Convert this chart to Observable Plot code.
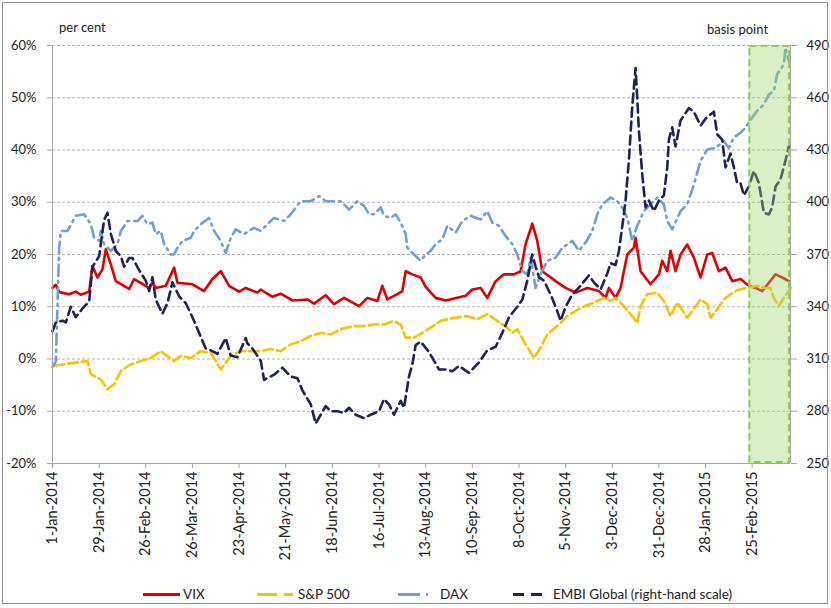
<!DOCTYPE html>
<html>
<head>
<meta charset="utf-8">
<script src="https://cdn.jsdelivr.net/npm/d3@7"></script>
<script src="https://cdn.jsdelivr.net/npm/@observablehq/plot@0.6"></script>
<style>
  html, body { margin: 0; padding: 0; background: #fff; }
  #wrap { position: relative; width: 831px; height: 608px; font-family: Lato, "Open Sans", sans-serif; color: #222; overflow: hidden; }
  #frame { position: absolute; left: 2px; top: 2px; width: 826px; height: 602px; box-sizing: border-box; border: 1px solid #8f8f8f; pointer-events: none; }
  #chart { position: absolute; left: 0; top: 0; }
  .lbl { position: absolute; font-size: 13px; white-space: nowrap; }
  .leg { position: absolute; top: 585px; font-size: 13.5px; white-space: nowrap; line-height: 18px; }
  .leg svg { position: absolute; top: 0; }
</style>
</head>
<body>
<div id="wrap">
  <div id="chart"></div>
  <div class="lbl" style="left:59px; top:19px;">per cent</div>
  <div class="lbl" style="left:707px; top:21px;">basis point</div>
  <div id="legend"></div>
  <div id="frame"></div>
</div>
<script>
// ---- data ----
const seriesNames = ["VIX", "S&P 500", "DAX", "EMBI Global (right-hand scale)"];

const vix = [
["2014-01-01",13.6],["2014-01-03",14.2],["2014-01-05",12.8],["2014-01-11",12.4],["2014-01-15",12.9],["2014-01-18",12.3],["2014-01-23",12.9],["2014-01-25",17.8],["2014-01-28",15.6],["2014-01-31",17.2],["2014-02-02",21.0],["2014-02-05",18.1],["2014-02-08",14.9],["2014-02-16",13.4],["2014-02-19",15.3],["2014-02-28",13.6],["2014-03-02",14.6],["2014-03-04",13.6],["2014-03-10",14.0],["2014-03-15",17.5],["2014-03-17",14.6],["2014-03-26",14.3],["2014-04-02",13.0],["2014-04-07",15.3],["2014-04-12",16.8],["2014-04-17",14.0],["2014-04-23",12.9],["2014-04-27",13.6],["2014-05-04",12.7],["2014-05-06",13.3],["2014-05-13",11.9],["2014-05-18",12.5],["2014-05-25",11.2],["2014-06-03",11.4],["2014-06-07",10.6],["2014-06-14",12.2],["2014-06-19",10.5],["2014-06-25",11.7],["2014-07-04",10.1],["2014-07-09",11.7],["2014-07-15",11.1],["2014-07-18",14.0],["2014-07-21",11.4],["2014-07-27",12.4],["2014-07-30",13.0],["2014-08-01",16.8],["2014-08-05",16.2],["2014-08-10",15.6],["2014-08-13",13.8],["2014-08-19",11.7],["2014-08-25",11.2],["2014-09-06",12.1],["2014-09-10",13.3],["2014-09-15",13.6],["2014-09-19",11.7],["2014-09-24",14.9],["2014-09-29",16.2],["2014-10-05",16.2],["2014-10-09",16.8],["2014-10-12",22.0],["2014-10-16",25.9],["2014-10-19",22.6],["2014-10-22",16.8],["2014-10-30",14.9],["2014-11-05",13.6],["2014-11-11",12.7],["2014-11-18",13.6],["2014-11-25",13.0],["2014-11-29",11.7],["2014-12-01",13.6],["2014-12-05",11.7],["2014-12-08",13.6],["2014-12-12",20.0],["2014-12-16",21.3],["2014-12-17",23.2],["2014-12-20",16.8],["2014-12-26",14.3],["2014-12-31",16.2],["2015-01-02",18.8],["2015-01-05",16.8],["2015-01-07",20.7],["2015-01-10",16.8],["2015-01-13",20.0],["2015-01-17",21.9],["2015-01-21",19.4],["2015-01-25",15.6],["2015-01-29",20.0],["2015-02-01",20.3],["2015-02-05",16.8],["2015-02-09",17.5],["2015-02-13",14.9],["2015-02-18",15.3],["2015-02-23",14.0],["2015-02-27",13.6],["2015-03-03",13.0],["2015-03-11",16.2],["2015-03-15",15.6],["2015-03-19",14.9]
];

const sp500 = [
["2014-01-02",-1.3],["2014-01-12",-0.8],["2014-01-22",-0.4],["2014-01-24",-2.9],["2014-01-30",-3.9],["2014-02-03",-5.8],["2014-02-07",-4.8],["2014-02-11",-2.3],["2014-02-17",-1.0],["2014-02-23",-0.4],["2014-03-01",0.2],["2014-03-07",1.5],["2014-03-15",-0.4],["2014-03-19",0.6],["2014-03-25",0.2],["2014-03-31",1.5],["2014-04-06",1.2],["2014-04-12",-2.0],["2014-04-18",0.6],["2014-04-24",1.5],["2014-04-30",1.5],["2014-05-06",1.5],["2014-05-12",1.9],["2014-05-18",1.5],["2014-05-24",2.8],["2014-05-30",3.4],["2014-06-05",4.4],["2014-06-11",5.0],["2014-06-17",4.7],["2014-06-23",5.7],["2014-07-01",6.3],["2014-07-07",6.3],["2014-07-13",6.6],["2014-07-19",6.6],["2014-07-25",7.3],["2014-07-29",6.6],["2014-08-01",4.1],["2014-08-06",4.1],["2014-08-10",4.8],["2014-08-16",6.0],["2014-08-22",7.3],["2014-08-30",7.9],["2014-09-07",8.2],["2014-09-13",7.6],["2014-09-19",8.6],["2014-09-25",7.3],["2014-10-01",6.0],["2014-10-04",5.0],["2014-10-07",5.7],["2014-10-12",2.8],["2014-10-17",0.2],["2014-10-21",2.2],["2014-10-25",4.7],["2014-10-31",6.3],["2014-11-06",8.2],["2014-11-14",9.8],["2014-11-22",10.8],["2014-11-28",11.7],["2014-12-02",11.1],["2014-12-05",11.7],["2014-12-10",10.1],["2014-12-15",8.2],["2014-12-18",6.9],["2014-12-20",10.1],["2014-12-24",12.4],["2014-12-30",12.7],["2015-01-03",11.1],["2015-01-07",8.2],["2015-01-11",10.8],["2015-01-17",7.9],["2015-01-20",9.2],["2015-01-25",11.4],["2015-01-29",10.5],["2015-01-31",7.9],["2015-02-04",9.5],["2015-02-08",11.4],["2015-02-12",12.4],["2015-02-17",13.3],["2015-02-22",13.6],["2015-02-28",14.0],["2015-03-04",13.6],["2015-03-08",13.6],["2015-03-10",11.7],["2015-03-13",10.1],["2015-03-16",11.7],["2015-03-20",13.6]
];

const dax = [
["2014-01-01",-1.5],["2014-01-03",-0.5],["2014-01-05",21.3],["2014-01-06",24.5],["2014-01-10",24.5],["2014-01-15",27.4],["2014-01-20",27.7],["2014-01-24",25.8],["2014-01-26",23.2],["2014-01-29",22.6],["2014-01-30",24.5],["2014-02-01",22.0],["2014-02-05",20.7],["2014-02-09",22.0],["2014-02-11",24.5],["2014-02-15",26.4],["2014-02-21",26.4],["2014-02-24",27.4],["2014-02-27",25.8],["2014-03-02",26.1],["2014-03-04",23.9],["2014-03-07",24.5],["2014-03-09",22.0],["2014-03-13",20.0],["2014-03-15",20.0],["2014-03-17",21.3],["2014-03-20",22.6],["2014-03-25",23.2],["2014-03-27",24.5],["2014-03-31",25.8],["2014-04-05",27.0],["2014-04-08",24.5],["2014-04-12",22.6],["2014-04-15",20.3],["2014-04-18",23.2],["2014-04-21",24.8],["2014-04-26",23.9],["2014-05-02",25.1],["2014-05-06",24.5],["2014-05-10",25.8],["2014-05-14",27.0],["2014-05-20",26.4],["2014-05-24",27.7],["2014-05-30",30.2],["2014-06-05",30.2],["2014-06-10",31.2],["2014-06-14",30.2],["2014-06-19",30.2],["2014-06-23",30.2],["2014-06-28",28.6],["2014-07-03",30.2],["2014-07-07",29.3],["2014-07-10",27.7],["2014-07-13",27.7],["2014-07-17",29.0],["2014-07-19",27.4],["2014-07-23",27.0],["2014-07-26",27.7],["2014-07-29",26.1],["2014-08-01",23.9],["2014-08-02",21.3],["2014-08-06",20.0],["2014-08-10",18.8],["2014-08-13",20.0],["2014-08-16",20.7],["2014-08-19",22.0],["2014-08-23",22.9],["2014-08-26",25.5],["2014-08-31",24.2],["2014-09-04",26.4],["2014-09-09",27.4],["2014-09-15",26.7],["2014-09-19",28.3],["2014-09-22",26.1],["2014-09-26",25.5],["2014-09-30",23.5],["2014-10-04",22.0],["2014-10-07",20.0],["2014-10-10",16.8],["2014-10-13",16.2],["2014-10-15",19.4],["2014-10-18",13.6],["2014-10-21",16.2],["2014-10-25",18.8],["2014-10-30",19.4],["2014-11-03",21.3],["2014-11-09",22.6],["2014-11-13",20.7],["2014-11-17",22.3],["2014-11-21",24.5],["2014-11-24",27.7],["2014-11-27",29.6],["2014-12-02",30.9],["2014-12-06",30.2],["2014-12-09",29.0],["2014-12-12",27.0],["2014-12-15",22.6],["2014-12-18",25.5],["2014-12-22",28.3],["2014-12-26",29.6],["2014-12-30",30.9],["2015-01-03",29.6],["2015-01-05",26.4],["2015-01-08",24.8],["2015-01-13",28.3],["2015-01-17",29.6],["2015-01-21",33.4],["2015-01-25",37.9],["2015-01-29",40.1],["2015-02-03",40.4],["2015-02-08",41.7],["2015-02-11",40.4],["2015-02-14",42.4],["2015-02-18",43.3],["2015-02-21",44.3],["2015-02-25",46.2],["2015-02-28",47.5],["2015-03-04",48.7],["2015-03-07",50.6],["2015-03-10",51.3],["2015-03-12",54.5],["2015-03-16",56.4],["2015-03-17",59.6],["2015-03-19",57.0]
];

// EMBI Global spread, basis points (right-hand scale)
const embi = [
["2014-01-01",326],["2014-01-03",331],["2014-01-07",332],["2014-01-09",331],["2014-01-12",340],["2014-01-15",334],["2014-01-19",339],["2014-01-23",343],["2014-01-25",363],["2014-01-29",369],["2014-02-01",390],["2014-02-03",394],["2014-02-05",382],["2014-02-08",372],["2014-02-11",369],["2014-02-13",363],["2014-02-16",368],["2014-02-18",368],["2014-02-22",361],["2014-02-26",355],["2014-02-28",349],["2014-03-02",357],["2014-03-04",344],["2014-03-08",336],["2014-03-11",342],["2014-03-14",354],["2014-03-18",346],["2014-03-22",342],["2014-03-26",334],["2014-03-30",325],["2014-04-03",316],["2014-04-06",315],["2014-04-10",313],["2014-04-15",322],["2014-04-18",312],["2014-04-22",311],["2014-04-27",322],["2014-04-28",319],["2014-05-01",316],["2014-05-06",309],["2014-05-08",298],["2014-05-14",301],["2014-05-19",305],["2014-05-24",300],["2014-05-28",299],["2014-05-31",292],["2014-06-05",284],["2014-06-08",273],["2014-06-11",278],["2014-06-14",283],["2014-06-17",280],["2014-06-21",280],["2014-06-25",279],["2014-06-28",282],["2014-07-02",278],["2014-07-07",276],["2014-07-11",278],["2014-07-16",280],["2014-07-19",287],["2014-07-22",284],["2014-07-25",278],["2014-07-29",286],["2014-07-31",282],["2014-08-03",300],["2014-08-05",307],["2014-08-07",318],["2014-08-10",320],["2014-08-15",314],["2014-08-21",304],["2014-08-25",304],["2014-08-29",303],["2014-09-02",306],["2014-09-08",302],["2014-09-14",308],["2014-09-19",315],["2014-09-24",317],["2014-09-28",325],["2014-10-02",334],["2014-10-07",340],["2014-10-10",344],["2014-10-13",355],["2014-10-16",370],["2014-10-18",363],["2014-10-20",357],["2014-10-23",355],["2014-10-27",347],["2014-10-30",340],["2014-11-02",332],["2014-11-05",340],["2014-11-09",347],["2014-11-13",351],["2014-11-19",358],["2014-11-22",354],["2014-11-26",350],["2014-11-30",359],["2014-12-02",365],["2014-12-05",364],["2014-12-07",372],["2014-12-09",386],["2014-12-11",401],["2014-12-13",424],["2014-12-15",455],["2014-12-17",477],["2014-12-18",460],["2014-12-19",441],["2014-12-21",416],["2014-12-23",397],["2014-12-25",401],["2014-12-28",395],["2014-12-31",401],["2015-01-03",404],["2015-01-05",420],["2015-01-06",436],["2015-01-08",443],["2015-01-10",432],["2015-01-13",447],["2015-01-18",454],["2015-01-21",452],["2015-01-25",444],["2015-01-28",448],["2015-02-02",452],["2015-02-04",439],["2015-02-07",436],["2015-02-09",420],["2015-02-12",428],["2015-02-14",420],["2015-02-16",411],["2015-02-18",411],["2015-02-20",404],["2015-02-23",409],["2015-02-26",418],["2015-03-01",411],["2015-03-04",394],["2015-03-07",393],["2015-03-09",397],["2015-03-11",409],["2015-03-14",413],["2015-03-17",424],["2015-03-19",432]
];

const xDomain = ["2014-01-01", "2015-03-20"];
const xTickDates = ["2014-01-01","2014-01-29","2014-02-26","2014-03-26","2014-04-23","2014-05-21","2014-06-18","2014-07-16","2014-08-13","2014-09-10","2014-10-08","2014-11-05","2014-12-03","2014-12-31","2015-01-28","2015-02-25"];
const leftTicks = [-20, -10, 0, 10, 20, 30, 40, 50, 60];
const rightTicks = [250, 280, 310, 340, 370, 400, 430, 460, 490];
const shadedPeriod = [{start: "2015-02-23", end: "2015-03-20"}];

// ---- helpers ----
const parse = s => new Date(s + "T00:00:00Z");
// right-hand scale (bp) mapped onto the left scale (%): 250..490 <-> -20..60
const bpToPct = bp => (bp - rightTicks[0]) / (rightTicks[rightTicks.length - 1] - rightTicks[0]) * (leftTicks[leftTicks.length - 1] - leftTicks[0]) + leftTicks[0];
const pctToBp = p => Math.round((p - leftTicks[0]) / (leftTicks[leftTicks.length - 1] - leftTicks[0]) * (rightTicks[rightTicks.length - 1] - rightTicks[0]) + rightTicks[0]);
const fmt = d3.utcFormat("%-d-%b-%Y");

const colors = {vix: "#e00000", sp: "#ffc000", dax: "#6f9fd8", embi: "#1f2157"};

const chart = Plot.plot({
  width: 831,
  height: 570,
  marginLeft: 52,
  marginRight: 41,
  marginTop: 45,
  marginBottom: 107,
  style: {fontFamily: "Lato, 'Open Sans', sans-serif", fontSize: "13px", background: "transparent", color: "#222"},
  x: {type: "utc", domain: xDomain.map(parse), axis: null},
  y: {domain: [leftTicks[0], leftTicks[leftTicks.length - 1]], axis: null},
  marks: [
    Plot.ruleY(leftTicks.slice(1), {stroke: "#b3b3b3", strokeWidth: 1, strokeDasharray: "3,2"}),
    Plot.line(vix, {x: d => parse(d[0]), y: d => d[1], stroke: colors.vix, strokeWidth: 2.6, strokeLinejoin: "round"}),
    Plot.line(sp500, {x: d => parse(d[0]), y: d => d[1], stroke: colors.sp, strokeWidth: 2.6, strokeDasharray: "10,4", strokeLinejoin: "round"}),
    Plot.line(dax, {x: d => parse(d[0]), y: d => d[1], stroke: colors.dax, strokeWidth: 2.6, strokeDasharray: "11,5,2,5", strokeLinejoin: "round"}),
    Plot.line(embi, {x: d => parse(d[0]), y: d => bpToPct(d[1]), stroke: colors.embi, strokeWidth: 2.6, strokeDasharray: "9,5", strokeLinejoin: "round"}),
    Plot.rect(shadedPeriod, {x1: d => parse(d.start), x2: d => parse(d.end), y1: leftTicks[0], y2: leftTicks[leftTicks.length - 1], fill: "#9dd46b", fillOpacity: 0.38}),
    Plot.rect(shadedPeriod, {x1: d => parse(d.start), x2: d => parse(d.end), y1: leftTicks[0], y2: leftTicks[leftTicks.length - 1], fill: "none", stroke: "#8ccf50", strokeWidth: 2, strokeDasharray: "7,4", inset: 1}),
    Plot.ruleX([parse(xDomain[0])], {stroke: "#a6a6a6", strokeWidth: 1}),
    Plot.ruleX([parse(xDomain[1])], {stroke: "#a6a6a6", strokeWidth: 1}),
    Plot.ruleY([leftTicks[0]], {stroke: "#a6a6a6", strokeWidth: 1}),
    Plot.axisY({anchor: "left", ticks: leftTicks, tickFormat: d => d + "%", tickSize: 5, tickPadding: 11, stroke: "#a6a6a6", fill: "#222", label: null, fontSize: 13}),
    Plot.axisY({anchor: "right", ticks: leftTicks, tickFormat: d => String(pctToBp(d)), tickSize: 6, tickPadding: 10, stroke: "#a6a6a6", fill: "#222", label: null, fontSize: 13}),
    Plot.axisX({anchor: "bottom", ticks: xTickDates.map(parse), tickFormat: fmt, tickRotate: -90, tickSize: 5, tickPadding: 3, stroke: "#a6a6a6", fill: "#222", label: null, fontSize: 14.5})
  ]
});
document.getElementById("chart").appendChild(chart);

// ---- legend ----
const legendItems = [
  {name: seriesNames[0], color: colors.vix, dash: null, lineLeft: 143, lineW: 37, textLeft: 183},
  {name: seriesNames[1], color: colors.sp, dash: "20,7,9", lineLeft: 257, lineW: 36, textLeft: 298},
  {name: seriesNames[2], color: colors.dax, dash: "22,6,2", lineLeft: 398, lineW: 32, textLeft: 440},
  {name: seriesNames[3], color: colors.embi, dash: "11,7", lineLeft: 513, lineW: 30, textLeft: 553}
];
const leg = document.getElementById("legend");
legendItems.forEach(it => {
  const box = document.createElement("div");
  box.className = "leg";
  box.style.left = it.lineLeft + "px";
  box.style.paddingLeft = (it.textLeft - it.lineLeft) + "px";
  box.innerHTML = `<svg width="${it.lineW}" height="18" style="left:0"><line x1="0" x2="${it.lineW}" y1="9.5" y2="9.5" stroke="${it.color}" stroke-width="3" ${it.dash ? `stroke-dasharray="${it.dash}"` : ""}/></svg>`;
  const t = document.createElement("span");
  t.textContent = it.name;
  box.appendChild(t);
  leg.appendChild(box);
});
</script>
</body>
</html>
